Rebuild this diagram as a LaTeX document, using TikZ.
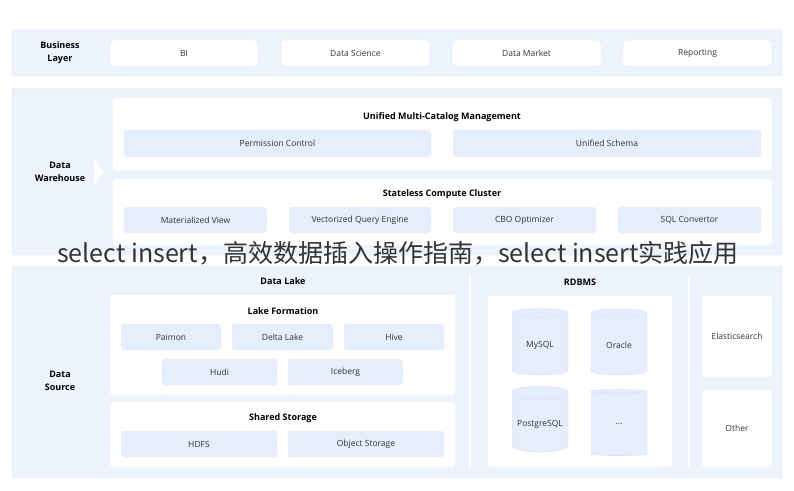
\documentclass[tikz,border=0pt]{standalone}
\usepackage{fontspec}
\setmainfont{Open Sans}
\newfontfamily\cjk{Noto Sans CJK SC}
\usetikzlibrary{shapes.geometric}
\definecolor{bandfill}{HTML}{EDF3FD}
\definecolor{bandline}{HTML}{D3E0F8}
\definecolor{cellfill}{HTML}{E4EEFC}
\definecolor{txt}{HTML}{333333}
\tikzset{
  band/.style={draw=bandline,fill=bandfill,rounded corners=3pt},
  panel/.style={fill=white,rounded corners=3pt},
  cell/.style={fill=cellfill,rounded corners=3pt,text=txt,font=\fontsize{8.5}{10}\selectfont},
  wcell/.style={draw=bandline,fill=white,rounded corners=3pt,text=txt,font=\fontsize{8.5}{10}\selectfont},
  lbl/.style={text=black,font=\fontsize{9}{13}\selectfont\bfseries,align=center},
  ttl/.style={text=black,font=\fontsize{9}{11}\selectfont\bfseries},
  db/.style={cylinder,shape border rotate=90,aspect=0.25,draw=bandline,fill=cellfill,
    minimum width=56pt,minimum height=66pt,text=txt,font=\fontsize{8.5}{10}\selectfont}
}
\newcommand{\cellbox}[6]{\path[#1] (#2,#3) rectangle (#4,#5) node[midway] {#6};}
\begin{document}
\begin{tikzpicture}[x=1pt,y=-1pt]
  \useasboundingbox (0,0) rectangle (794,490);
  % business layer
  \draw[band] (12,30) rectangle (782,76);
  \node[lbl] (biz) at (60,53) {Business\\Layer};
  \cellbox{wcell}{110}{40}{258}{66}{BI}
  \cellbox{wcell}{281}{40}{430}{66}{Data Science}
  \cellbox{wcell}{452}{40}{601}{66}{Data Market}
  \cellbox{wcell}{623}{40}{772}{66}{Reporting}
  % data warehouse
  \draw[band] (12,88) rectangle (782,255);
  \node[lbl] (dw) at (60,172) {Data\\Warehouse};
  \fill[white] (94,160) -- (104,172) -- (94,184) -- cycle;
  \path[panel] (113,98) rectangle (772,170);
  \node[ttl] (umc) at (442,117) {Unified Multi-Catalog Management};
  \cellbox{cell}{124}{130}{431}{157}{Permission Control}
  \cellbox{cell}{453}{130}{761}{157}{Unified Schema}
  \path[panel] (113,179) rectangle (772,245);
  \node[ttl] (scc) at (442,194) {Stateless Compute Cluster};
  \cellbox{cell}{124}{207}{267}{233}{Materialized View}
  \cellbox{cell}{289}{207}{431}{233}{Vectorized Query Engine}
  \cellbox{cell}{453}{207}{596}{233}{CBO Optimizer}
  \cellbox{cell}{618}{207}{761}{233}{SQL Convertor}
  % data source
  \draw[band] (12,266) rectangle (782,478);
  \node[lbl] (ds) at (60,381) {Data\\Source};
  \node[ttl] (lake) at (283,281) {Data Lake};
  \path[panel] (110,295) rectangle (455,395);
  \node[ttl] (lf) at (283,311) {Lake Formation};
  \cellbox{cell}{121}{324}{221}{350}{Paimon}
  \cellbox{cell}{232}{324}{333}{350}{Delta Lake}
  \cellbox{cell}{344}{324}{444}{350}{Hive}
  \cellbox{cell}{162}{359}{277}{385}{Hudi}
  \cellbox{cell}{288}{359}{403}{385}{Iceberg}
  \path[panel] (110,402) rectangle (455,467);
  \node[ttl] (ss) at (283,418) {Shared Storage};
  \cellbox{cell}{121}{431}{277}{457}{HDFS}
  \cellbox{cell}{288}{431}{444}{457}{Object Storage}
  \draw[white,line width=1.2pt] (470,275) -- (470,468);
  \node[ttl] (rdb) at (580,282) {RDBMS};
  \path[panel] (488,296) rectangle (672,467);
  \node[db] (mysql) at (540,345) {MySQL};
  \node[db] (oracle) at (619,345) {Oracle};
  \node[db] (pg) at (540,424) {PostgreSQL};
  \node[db] (more) at (619,424) {...};
  \draw[white,line width=1.2pt] (689,275) -- (689,468);
  \cellbox{panel}{702}{296}{772}{377}{\fontsize{8.5}{10}\selectfont\color{txt}Elasticsearch}
  \cellbox{panel}{702}{390}{772}{467}{\fontsize{8.5}{10}\selectfont\color{txt}Other}
  % overlay title
  \node[text=txt,font=\cjk\fontsize{25}{28}\selectfont,inner sep=0] (head) at (398,253)
    {select insert，高效数据插入操作指南，select insert实践应用};
\end{tikzpicture}
\end{document}
